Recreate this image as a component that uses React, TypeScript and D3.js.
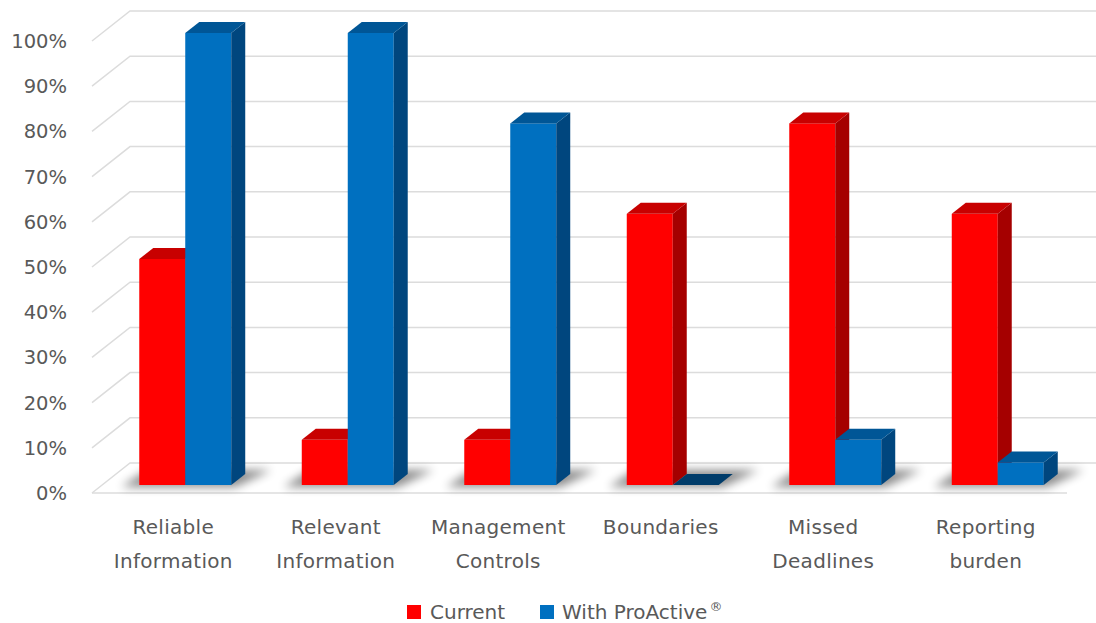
import React from 'react'
import * as d3 from 'd3'

const categories = [
  ['Reliable', 'Information'],
  ['Relevant', 'Information'],
  ['Management', 'Controls'],
  ['Boundaries'],
  ['Missed', 'Deadlines'],
  ['Reporting', 'burden'],
]
const current = [0.5, 0.1, 0.1, 0.6, 0.8, 0.6]
const proactive = [1.0, 1.0, 0.8, 0.0, 0.1, 0.05]
const ticks = [0, 0.1, 0.2, 0.3, 0.4, 0.5, 0.6, 0.7, 0.8, 0.9, 1.0]
const seriesNames = ['Current', 'With ProActive']

const W = 1096
const H = 623
// wall depth offset
const wallDx = 38
const wallDy = -30
// bar placement inside the floor, and bar depth
const barShiftX = 12
const barShiftY = -8
const barDx = 14
const barDy = -11

const colors = {
  current: {front: '#FF0000', side: '#A50000', top: '#C80000'},
  proactive: {front: '#0070C0', side: '#00467E', top: '#005696', flat: '#003C6A'},
}

function App() {
  const x = d3.scaleBand<number>().domain(d3.range(categories.length)).range([92, 1067])
  const y = d3.scaleLinear().domain([0, 1]).range([493, 41])
  const barW = x.bandwidth() * 0.283
  const fmt = d3.format('.0%')
  const font = '"DejaVu Sans", Verdana, sans-serif'

  const x0 = x.range()[0]
  const x1 = x.range()[1]

  function bar(left: number, v: number, c: any, key: string, isZeroFlat = false) {
    const yt = y(v) + barShiftY
    const yb = y(0) + barShiftY
    const l = left
    const r = left + barW
    if (v === 0 && isZeroFlat) {
      const pts = [
        [l, yb],
        [r, yb],
        [r + barDx, yb + barDy],
        [l + barDx, yb + barDy],
      ]
      return <polygon key={key} points={pts.join(' ')} fill={c.flat} />
    }
    return (
      <g key={key}>
        <rect x={l} y={yt} width={barW} height={yb - yt} fill={c.front} />
        <polygon
          points={[
            [r, yt],
            [r + barDx, yt + barDy],
            [r + barDx, yb + barDy],
            [r, yb],
          ].join(' ')}
          fill={c.side}
        />
        <polygon
          points={[
            [l, yt],
            [l + barDx, yt + barDy],
            [r + barDx, yt + barDy],
            [r, yt],
          ].join(' ')}
          fill={c.top}
        />
      </g>
    )
  }

  return (
    <div style={{position: 'absolute', left: 0, top: 0}}>
      <svg width={W} height={H} style={{display: 'block', background: '#fff'}}>
        <defs>
          <filter id="shadow" x="-30%" y="-100%" width="160%" height="300%">
            <feGaussianBlur stdDeviation="5" />
          </filter>
        </defs>

        {/* gridlines: left wall diagonal + back wall */}
        {ticks.map((t) => (
          <polyline
            key={t}
            points={[
              [x0, y(t)],
              [x0 + wallDx, y(t) + wallDy],
              [W, y(t) + wallDy],
            ].join(' ')}
            fill="none"
            stroke="#DCDCDC"
            strokeWidth={1.5}
          />
        ))}
        {/* floor front edge */}
        <line x1={x0} x2={x1} y1={y(0)} y2={y(0)} stroke="#DCDCDC" strokeWidth={1.5} />

        {/* shadows on floor */}
        {categories.map((_, i) => {
          const left = (x(i) as number) + x.bandwidth() / 2 - barW + barShiftX
          const yb = y(0) + barShiftY
          const pts = [
            [left - 18, yb + 2],
            [left + 2 * barW + 4, yb + 2],
            [left + 2 * barW + barDx + 26, yb + barDy - 4],
            [left + barDx - 6, yb + barDy - 4],
          ]
          return (
            <polygon key={i} points={pts.join(' ')} fill="#000" opacity={0.45} filter="url(#shadow)" />
          )
        })}

        {/* bars */}
        {categories.map((_, i) => {
          const left = (x(i) as number) + x.bandwidth() / 2 - barW + barShiftX
          return (
            <g key={i}>
              {bar(left, current[i], colors.current, 'c')}
              {bar(left + barW, proactive[i], colors.proactive, 'p', true)}
            </g>
          )
        })}

        {/* y axis labels */}
        {ticks.map((t) => (
          <text
            key={t}
            x={67}
            y={y(t)}
            dy="0.36em"
            textAnchor="end"
            fontFamily={font}
            fontSize={19.5}
            fill="#595959"
          >
            {fmt(t)}
          </text>
        ))}

        {/* category labels */}
        {categories.map((lines, i) => (
          <text
            key={i}
            x={(x(i) as number) + x.bandwidth() / 2}
            y={534}
            textAnchor="middle"
            fontFamily={font}
            fontSize={20}
            letterSpacing={0.3}
            fill="#595959"
          >
            {lines.map((ln, j) => (
              <tspan key={j} x={(x(i) as number) + x.bandwidth() / 2} dy={j === 0 ? 0 : 34}>
                {ln}
              </tspan>
            ))}
          </text>
        ))}

        {/* legend */}
        <g fontFamily={font} fontSize={20} fill="#595959">
          <rect x={407} y={605} width={14} height={14} fill={colors.current.front} />
          <text x={430} y={619}>
            {seriesNames[0]}
          </text>
          <rect x={540} y={605} width={14} height={14} fill={colors.proactive.front} />
          <text x={562} y={619}>
            {seriesNames[1]}
            <tspan fontSize={13} dx={2} dy={-8}>
              ®
            </tspan>
          </text>
        </g>
      </svg>
    </div>
  )
}

export default App
